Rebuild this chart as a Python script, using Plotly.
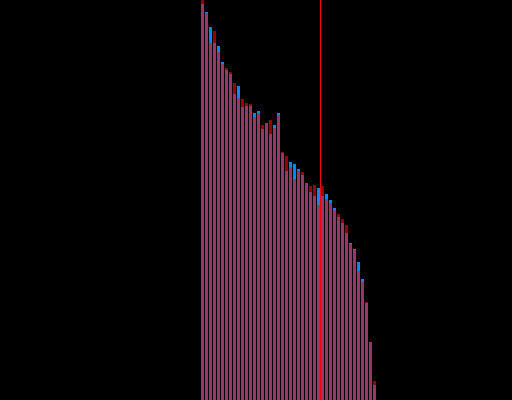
import plotly.graph_objects as go

# Category positions (rank index)
ranks = list(range(44))

# Series values (0-100 scale)
blue_values = [99, 97, 93.25, 89.25, 88.5, 84.5, 82.5, 81.5, 76.5, 78.5,
               73.25, 73.5, 73.5, 71.75, 72.25, 67.75, 69.25, 66.5, 68.75, 71.75,
               61.75, 57.25, 59.5, 59, 57.75, 56.25, 54.25, 52, 51, 53,
               51, 51.5, 50, 48, 45.75, 44.25, 41.75, 39.25, 37.75, 34.5,
               30.25, 24.25, 14.5, 3.75]
red_values = [101, 96.75, 89.25, 92.25, 87, 84, 83, 82, 79.25, 75.5,
              75.25, 74.25, 74, 70.75, 71.75, 68.75, 69.25, 70, 68, 71.25,
              62, 61, 58.25, 55.25, 57.25, 57, 54.25, 53.5, 53.75, 48.75,
              53.5, 50.25, 49.25, 47.5, 46.5, 45.25, 43.75, 39, 37.5, 32.25,
              29.5, 24.5, 14.5, 4.75]
marker_position = 29.5

fig = go.Figure()
fig.add_trace(go.Bar(x=ranks, y=blue_values, marker=dict(color="#0088ff", line=dict(width=0)),
                     width=0.75, opacity=1.0))
fig.add_trace(go.Bar(x=ranks, y=red_values, marker=dict(color="#ff0000", line=dict(width=0)),
                     width=0.75, opacity=0.6))
fig.add_shape(type="line", xref="x", yref="paper", x0=marker_position, x1=marker_position,
              y0=0, y1=1, line=dict(color="#ff0000", width=1))

fig.update_layout(
    width=512, height=400,
    margin=dict(l=0, r=0, t=0, b=0),
    paper_bgcolor="black", plot_bgcolor="black",
    barmode="overlay", showlegend=False,
    xaxis=dict(visible=False, range=[-50.625, 77.375]),
    yaxis=dict(visible=False, range=[0, 100]),
)
fig.write_html(
    "out.html",
    config={"displayModeBar": False},
    post_script="document.body.style.margin='0';document.body.style.padding='0';"
                "document.body.style.background='black';document.body.style.overflow='hidden';",
)
